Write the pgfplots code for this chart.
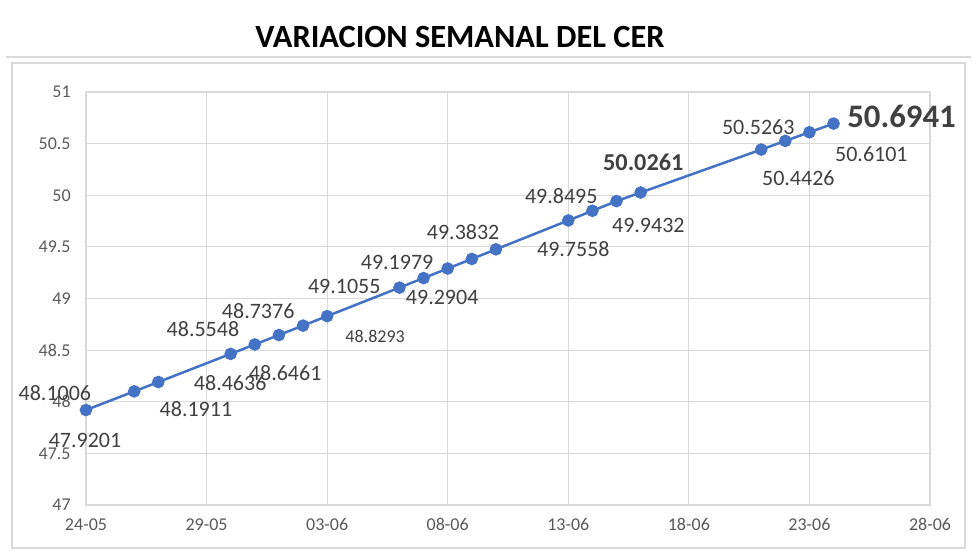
\documentclass[border=0pt]{standalone}
\usepackage{fontspec}
\setmainfont{Carlito}
\usepackage{pgfplots}
\pgfplotsset{compat=1.18}
\definecolor{cerblue}{HTML}{4472C4}
\definecolor{lblgray}{HTML}{404040}
\definecolor{tickgray}{HTML}{595959}
\definecolor{gridgray}{HTML}{D9D9D9}
\tikzset{lbl/.style={font=\fontsize{16.5}{18}\selectfont, text=lblgray, inner sep=0pt}}
\begin{document}
\begin{tikzpicture}[x=1pt,y=1pt]
\path[use as bounding box] (-64.5,-39) rectangle (670.5,378.75);
\draw[gridgray, line width=1.2pt] (-55.5,-32.25) rectangle (659.25,331.5);
\draw[gridgray, line width=0.8pt] (-60,336) -- (664,336);
\node[font=\bfseries\fontsize{24.3}{28}\selectfont, text=black] at (280.5,351) {VARIACION SEMANAL DEL CER};
\begin{axis}[
  at={(0,0)}, anchor=south west,
  scale only axis, width=633pt, height=309.75pt,
  xmin=0, xmax=35, ymin=47, ymax=51,
  xtick={0,5,10,15,20,25,30,35},
  xticklabels={24-05,29-05,03-06,08-06,13-06,18-06,23-06,28-06},
  ytick={47,47.5,48,48.5,49,49.5,50,50.5,51},
  yticklabels={47,47.5,48,48.5,49,49.5,50,50.5,51},
  xmajorgrids, ymajorgrids,
  grid style={gridgray, line width=0.8pt},
  axis line style={gridgray, line width=0.8pt},
  major tick length=0pt,
  tick label style={font=\fontsize{13.5}{15}\selectfont, text=tickgray},
  yticklabel style={xshift=-8pt},
  xticklabel style={yshift=-6.5pt},
  clip=false,
]
\addplot[cerblue, line width=1.9pt, mark=*, mark size=3.75pt, mark options={fill=cerblue, draw=cerblue}] table {
x y
0 47.9201
2 48.1006
3 48.1911
6 48.4636
7 48.5548
8 48.6461
9 48.7376
10 48.8293
13 49.1055
14 49.1979
15 49.2904
16 49.3832
17 49.4763
20 49.7558
21 49.8495
22 49.9432
23 50.0261
28 50.4426
29 50.5263
30 50.6101
31 50.6941
};
\node[lbl] at (axis cs:-0.04,47.63) {47.9201};
\node[lbl] at (axis cs:-1.29,48.085) {48.1006};
\node[lbl] at (axis cs:4.56,47.93) {48.1911};
\node[lbl] at (axis cs:5.98,48.18) {48.4636};
\node[lbl] at (axis cs:4.85,48.70) {48.5548};
\node[lbl] at (axis cs:8.26,48.28) {48.6461};
\node[lbl] at (axis cs:7.14,48.88) {48.7376};
\node[lbl, font=\fontsize{13.5}{15}\selectfont] at (axis cs:11.99,48.63) {48.8293};
\node[lbl] at (axis cs:10.71,49.12) {49.1055};
\node[lbl] at (axis cs:12.90,49.35) {49.1979};
\node[lbl] at (axis cs:14.77,49.01) {49.2904};
\node[lbl] at (axis cs:15.64,49.64) {49.3832};
\node[lbl] at (axis cs:19.71,49.99) {49.8495};
\node[lbl] at (axis cs:20.21,49.48) {49.7558};
\node[lbl, font=\bfseries\fontsize{18.2}{20}\selectfont] at (axis cs:23.11,50.32) {50.0261};
\node[lbl] at (axis cs:23.32,49.71) {49.9432};
\node[lbl] at (axis cs:27.88,50.66) {50.5263};
\node[lbl] at (axis cs:29.54,50.17) {50.4426};
\node[lbl] at (axis cs:32.57,50.40) {50.6101};
\node[lbl, font=\bfseries\fontsize{24.6}{27}\selectfont] at (axis cs:33.82,50.76) {50.6941};
\end{axis}
\end{tikzpicture}
\end{document}
